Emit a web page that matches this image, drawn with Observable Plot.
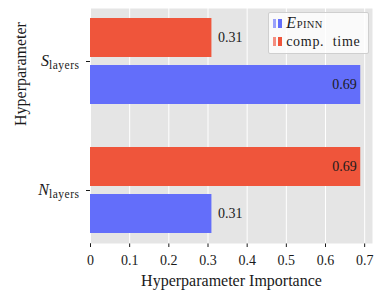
<!DOCTYPE html>
<html><head><meta charset="utf-8">
<script src="https://cdn.jsdelivr.net/npm/d3@7"></script>
<script src="https://cdn.jsdelivr.net/npm/@observablehq/plot@0.6"></script>
<style>
body{margin:0;background:#fff;}
#wrap{position:relative;width:377px;height:294px;font-family:"Liberation Serif",serif;}
.legend{position:absolute;left:268px;top:12px;width:101px;height:42px;box-sizing:border-box;background:rgba(255,255,255,0.8);border:1px solid #cfcfcf;border-radius:2px;font-size:14px;color:#1a1a1a;letter-spacing:0.7px;}
.row{position:absolute;left:4px;height:16px;line-height:16px;white-space:nowrap;}
.h{display:inline-block;width:3px;height:9px;vertical-align:0px;}
.sub{font-size:10.5px;letter-spacing:0.4px;}
</style></head><body><div id="wrap"></div>
<script>
const hyperparameters = ["S_layers", "N_layers"];
const seriesNames = ["E_PINN", "comp. time"];
const ePinnImportance = [0.69, 0.31];
const compTimeImportance = [0.31, 0.69];
const xTicks = [0, 0.1, 0.2, 0.3, 0.4, 0.5, 0.6, 0.7];
const seriesColors = ["#636efa", "#ef553b"];

const rows = [];
hyperparameters.forEach((h, i) => {
  rows.push({h, s: seriesNames[0], v: ePinnImportance[i]});
  rows.push({h, s: seriesNames[1], v: compTimeImportance[i]});
});
const upper = rows.filter(d => d.s === "comp. time");
const lower = rows.filter(d => d.s === "E_PINN");
const fmt = d => d.v.toFixed(2);

const chart = Plot.plot({
  width: 377, height: 294,
  marginLeft: 90, marginRight: 5, marginTop: 8, marginBottom: 51,
  style: {fontFamily: "Liberation Serif", fontSize: "14px", background: "white", color: "#1a1a1a"},
  x: {domain: [0, 0.72], ticks: xTicks, tickFormat: d => String(d), tickSize: 4, tickPadding: 8, label: null},
  y: {domain: hyperparameters, paddingInner: 0.33, paddingOuter: 0.07, tickSize: 4, tickPadding: 7, label: null},
  color: {domain: seriesNames, range: seriesColors},
  marks: [
    Plot.frame({fill: "#e5e5e5", stroke: "none"}),
    Plot.ruleX(xTicks, {stroke: "white", strokeWidth: 1}),
    Plot.barX(upper, {x: "v", y: "h", fill: "s", insetBottom: 47}),
    Plot.barX(lower, {x: "v", y: "h", fill: "s", insetTop: 47}),
    Plot.text(upper, {filter: d => d.v > 0.5, x: "v", y: "h", text: fmt, textAnchor: "end", dx: -4, dy: -23.5, fill: "#1a1a1a"}),
    Plot.text(upper, {filter: d => d.v <= 0.5, x: "v", y: "h", text: fmt, textAnchor: "start", dx: 6, dy: -23.5, fill: "#1a1a1a"}),
    Plot.text(lower, {filter: d => d.v > 0.5, x: "v", y: "h", text: fmt, textAnchor: "end", dx: -4, dy: 23.5, fill: "#1a1a1a"}),
    Plot.text(lower, {filter: d => d.v <= 0.5, x: "v", y: "h", text: fmt, textAnchor: "start", dx: 6, dy: 23.5, fill: "#1a1a1a"}),
    Plot.text(["Hyperparameter Importance"], {frameAnchor: "bottom", lineAnchor: "middle", dy: 37, fontSize: 16, fill: "#1a1a1a"}),
    Plot.text(["Hyperparameter"], {frameAnchor: "left", lineAnchor: "middle", rotate: -90, dx: -70, fontSize: 16, fill: "#1a1a1a"})
  ]
});

// subscript formatting for the category tick labels
chart.querySelectorAll("text").forEach(t => {
  const s = t.textContent;
  if (hyperparameters.includes(s)) {
    const [main, sub] = s.split("_");
    t.textContent = "";
    const a = document.createElementNS("http://www.w3.org/2000/svg", "tspan");
    a.setAttribute("font-style", "italic");
    a.setAttribute("font-size", "16px");
    a.textContent = main;
    const b = document.createElementNS("http://www.w3.org/2000/svg", "tspan");
    b.setAttribute("font-size", "11.5px");
    b.setAttribute("dy", "3");
    b.setAttribute("letter-spacing", "0.5px");
    b.textContent = sub;
    t.appendChild(a); t.appendChild(b);
  }
});

const wrap = document.getElementById("wrap");
wrap.appendChild(chart);

const legend = document.createElement("div");
legend.className = "legend";
const light = ["#9aa1fb", "#f48e80"];
seriesNames.forEach((name, i) => {
  const row = document.createElement("div");
  row.className = "row";
  row.style.top = (2 + i * 19) + "px";
  const label = name === "E_PINN"
    ? '<i style="font-size:16px">E</i><span class="sub">PINN</span>'
    : "comp.&nbsp; time";
  row.innerHTML = `<span class="h" style="background:${light[i]}"></span><span class="h" style="background:${seriesColors[i]};margin-left:2px;width:4px"></span> ${label}`;
  legend.appendChild(row);
});
wrap.appendChild(legend);
</script>
</body></html>
